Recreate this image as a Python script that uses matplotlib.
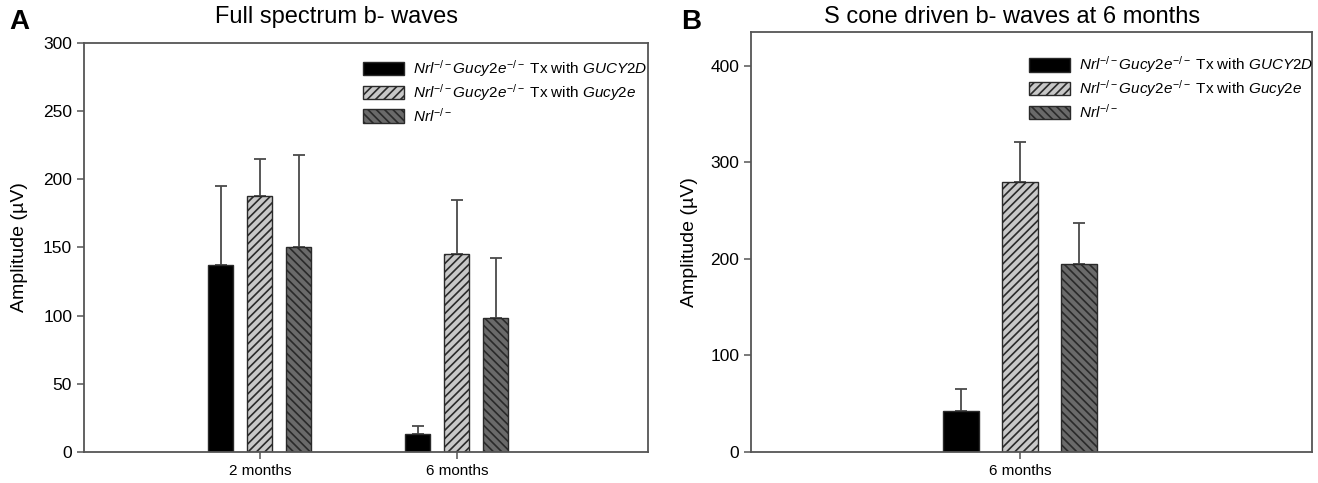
import numpy as np
import matplotlib
matplotlib.use("Agg")
import matplotlib.pyplot as plt

plt.rcParams['font.family'] = ['Liberation Sans', 'DejaVu Sans']
plt.rcParams['mathtext.fontset'] = 'custom'
plt.rcParams['mathtext.rm'] = 'Liberation Sans'
plt.rcParams['mathtext.it'] = 'Liberation Sans:italic'
plt.rcParams['hatch.linewidth'] = 1.2

## data ##
labels = [r"$\mathit{Nrl}^{-/-}\mathit{Gucy2e}^{-/-}$ Tx with $\mathit{GUCY2D}$",
          r"$\mathit{Nrl}^{-/-}\mathit{Gucy2e}^{-/-}$ Tx with $\mathit{Gucy2e}$",
          r"$\mathit{Nrl}^{-/-}$"]

# panel A - full spectrum
ages_A = ['2 months', '6 months']
mean_A_gucy2d = [137, 13]
mean_A_gucy2e = [188, 145]
mean_A_nrl = [150, 98]
err_A_gucy2d = [58, 6]
err_A_gucy2e = [27, 40]
err_A_nrl = [68, 44]

# panel B - S cone, 6 months
ages_B = ['6 months']
mean_B_gucy2d = [42]
mean_B_gucy2e = [280]
mean_B_nrl = [195]
err_B_gucy2d = [23]
err_B_gucy2e = [41]
err_B_nrl = [42]

fills = ['black', '#c8c8c8', '#6a6a6a']
hatches = [None, '////', '\\\\\\\\']
edge = '#2a2a2a'
spine_c = '#555555'

fig = plt.figure(figsize=(13.18, 4.83), dpi=100)


def style_axes(ax):
    for s in ax.spines.values():
        s.set_color(spine_c)
        s.set_linewidth(1.3)
    ax.tick_params(axis='both', direction='out', length=5, width=1.1,
                   color=spine_c)
    ax.tick_params(axis='y', labelsize=12.5)
    ax.tick_params(axis='x', labelsize=11)
    ax.tick_params(right=False, top=False)
    ax.set_ylabel(u'Amplitude (\u00b5V)', fontsize=14)


def draw_bars(ax, x, means, errs, width, offset):
    handles = []
    for i, (m, e) in enumerate(zip(means, errs)):
        xx = np.array(x) + (i - 1) * offset
        b = ax.bar(xx, m, width, color=fills[i], edgecolor=edge,
                   hatch=hatches[i], linewidth=1.0, zorder=2)
        ax.errorbar(xx, m, yerr=[np.zeros(len(e)), e], fmt='none',
                    ecolor='#4a4a4a', elinewidth=1.3, capsize=4.5,
                    capthick=1.3, zorder=1)
        handles.append(b)
    return handles


leg_kw = dict(bbox_transform=fig.transFigure, frameon=False, fontsize=11,
              handlelength=2.7, handleheight=0.95, handletextpad=0.6,
              labelspacing=0.2, borderpad=0, borderaxespad=0, loc='upper left')

## panel A ##
axA = fig.add_axes([0.0637, 0.0642, 0.428, 0.847])
xA = np.arange(1, len(ages_A) + 1)
hA = draw_bars(axA, xA, [mean_A_gucy2d, mean_A_gucy2e, mean_A_nrl],
               [err_A_gucy2d, err_A_gucy2e, err_A_nrl], 0.127, 0.198)
axA.set_xlim(0.107, 2.97)
axA.set_ylim(0, 300)
axA.set_yticks(np.arange(0, 301, 50))
axA.set_xticks(xA)
axA.set_xticklabels(ages_A)
style_axes(axA)
axA.yaxis.set_label_coords(-0.1, 0.5)
axA.legend(hA, labels, bbox_to_anchor=(0.2754, 0.879), **leg_kw)

## panel B ##
axB = fig.add_axes([0.5698, 0.0642, 0.4256, 0.8696])
xB = np.arange(1, len(ages_B) + 1)
hB = draw_bars(axB, xB, [mean_B_gucy2d, mean_B_gucy2e, mean_B_nrl],
               [err_B_gucy2d, err_B_gucy2e, err_B_nrl], 0.064, 0.105)
axB.set_xlim(1 - 0.4795, 1 + 0.5205)
axB.set_ylim(0, 435)
axB.set_yticks(np.arange(0, 401, 100))
axB.set_xticks(xB)
axB.set_xticklabels(ages_B)
style_axes(axB)
axB.yaxis.set_label_coords(-0.095, 0.5)
axB.legend(hB, labels, bbox_to_anchor=(0.7805, 0.887), **leg_kw)

## titles and panel letters ##
fig.text(0.255, 0.965, 'Full spectrum b- waves', fontsize=17, ha='center', va='center')
fig.text(0.768, 0.965, 'S cone driven b- waves at 6 months', fontsize=17, ha='center', va='center')
fig.text(0.007, 0.955, 'A', fontsize=20, fontweight='bold', va='center')
fig.text(0.517, 0.955, 'B', fontsize=20, fontweight='bold', va='center')

fig.savefig('out.png', dpi=100)
